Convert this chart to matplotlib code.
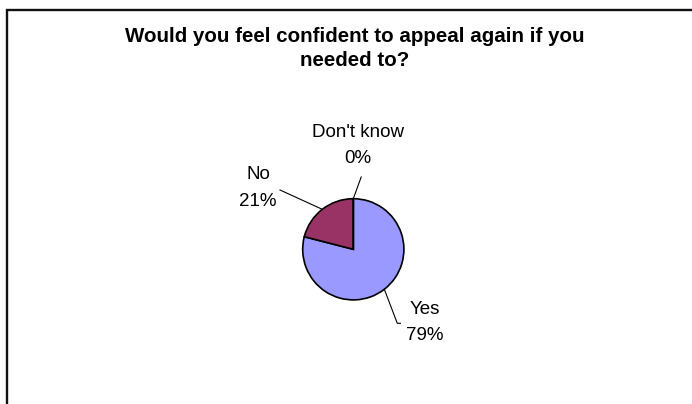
import matplotlib
matplotlib.use("Agg")
import matplotlib.pyplot as plt
from matplotlib.patches import Rectangle
import numpy as np

# Survey responses (percent of respondents)
categories = ["Yes", "No", "Don't know"]
percentages = [79, 21, 0]
colors = ["#9999FF", "#993366", "#FFFFCC"]
title_lines = ["Would you feel confident to appeal again if you", "needed to?"]

W, H = 692, 404
fig = plt.figure(figsize=(W / 100, H / 100), dpi=100)
fig.patch.set_facecolor("white")
plt.rcParams["font.family"] = ["Liberation Sans", "DejaVu Sans"]

# chart-area frame (runs off the right and bottom edges)
fig.add_artist(Rectangle((7 / W, -0.2), 1.5, (1 - 10 / H) + 0.2,
                         transform=fig.transFigure, fill=False,
                         edgecolor="#111111", linewidth=1.7))

# axes in pixel units, y measured upward
ax = fig.add_axes([0, 0, 1, 1])
cx, cy, R = 353.3, H - 249.3, 50.6
wedges, _ = ax.pie(percentages, colors=colors, startangle=90,
                   counterclock=False, radius=R, center=(cx, cy),
                   wedgeprops=dict(edgecolor="black", linewidth=1.2),
                   frame=True)
ax.set_xlim(0, W)
ax.set_ylim(0, H)
ax.set_aspect("equal")
ax.axis("off")

for line, ty in zip(title_lines, (36, 60)):
    fig.text(355 / W, 1 - ty / H, line, ha="center", va="center",
             fontsize=14.8, fontweight="bold")

# label placement (pixel coords, y down): text centre and leader elbow
label_pos = {"Yes": (425, 322.5), "No": (258, 188), "Don't know": (358, 145.5)}
leader_end = {"Yes": [(397.3, 323.3), (400.5, 323.3)],
              "No": [(280, 190)],
              "Don't know": [(361.2, 177)]}

for w, name, pct in zip(wedges, categories, percentages):
    mid = np.deg2rad((w.theta1 + w.theta2) / 2)
    sx, sy = cx + R * np.cos(mid), cy + R * np.sin(mid)
    pts = [(sx, sy)] + [(px, H - py) for px, py in leader_end[name]]
    xs, ys = zip(*pts)
    ax.plot(xs, ys, color="black", linewidth=0.8)
    lx, ly = label_pos[name]
    ax.text(lx, H - ly, f"{name}\n{pct}%", ha="center", va="center",
            fontsize=13.5, linespacing=1.7)

fig.savefig("out.png", dpi=100)
